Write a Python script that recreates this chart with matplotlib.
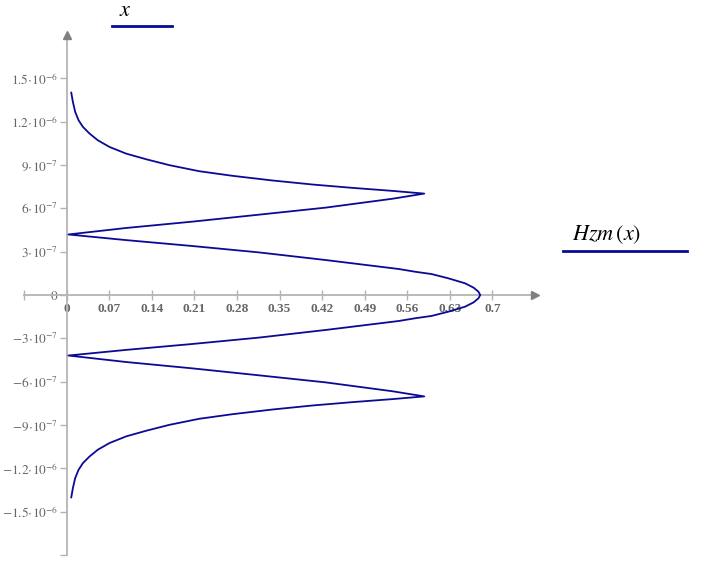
import matplotlib
matplotlib.use("Agg")
import matplotlib.pyplot as plt

plt.rcParams['mathtext.fontset'] = 'stix'
plt.rcParams['font.family'] = ['Liberation Serif', 'DejaVu Serif']

# Heights x (vertical axis, in units of 1e-7 m) and Hzm(x) values (horizontal axis)
x_upper = [14.01, 13.36, 12.67, 12.10, 11.64, 11.18, 10.71, 10.25, 9.79, 9.40, 8.99,
           8.57, 8.25, 7.93, 7.65, 7.42, 7.21, 7.02,
           6.66, 6.05, 5.56, 5.08, 4.64, 4.19,
           3.80, 3.39, 2.95, 2.42, 1.80, 1.61, 1.45, 1.15, 0.81, 0.51, 0.23, 0.0]
hzm_upper = [0.0077, 0.0104, 0.0142, 0.0197, 0.0268, 0.0377, 0.0514, 0.0705, 0.0978, 0.1306, 0.1689,
             0.218, 0.273, 0.338, 0.404, 0.469, 0.535, 0.588,
             0.535, 0.426, 0.316, 0.207, 0.098, 0.003,
             0.098, 0.207, 0.316, 0.426, 0.546, 0.573, 0.600, 0.628, 0.655, 0.669, 0.677, 0.680]
x_lower = [-0.23, -0.51, -0.81, -1.15, -1.45, -1.61, -1.80, -2.42, -2.95, -3.39, -3.80,
           -4.19, -4.64, -5.08, -5.56, -6.05, -6.66,
           -7.02, -7.21, -7.42, -7.65, -7.93, -8.25, -8.57,
           -8.99, -9.40, -9.79, -10.25, -10.71, -11.18, -11.64, -12.10, -12.67, -13.36, -14.01]
hzm_lower = [0.677, 0.669, 0.655, 0.628, 0.600, 0.573, 0.546, 0.426, 0.316, 0.207, 0.098,
             0.003, 0.098, 0.207, 0.316, 0.426, 0.535,
             0.588, 0.535, 0.469, 0.404, 0.338, 0.273, 0.218,
             0.1689, 0.1306, 0.0978, 0.0705, 0.0514, 0.0377, 0.0268, 0.0197, 0.0142, 0.0104, 0.0077]

xticks = [0, 0.07, 0.14, 0.21, 0.28, 0.35, 0.42, 0.49, 0.56, 0.63, 0.7]
xtick_labels = ['0', '0.07', '0.14', '0.21', '0.28', '0.35', '0.42', '0.49', '0.56', '0.63', '0.7']
yticks = [1.5e-6, 1.2e-6, 9e-7, 6e-7, 3e-7, 0, -3e-7, -6e-7, -9e-7, -1.2e-6, -1.5e-6]
ytick_labels = [r'$1.5\!\cdot\!10^{-6}$', r'$1.2\!\cdot\!10^{-6}$', r'$9\!\cdot\!10^{-7}$',
                r'$6\!\cdot\!10^{-7}$', r'$3\!\cdot\!10^{-7}$', r'$0$',
                r'$-3\!\cdot\!10^{-7}$', r'$-6\!\cdot\!10^{-7}$', r'$-9\!\cdot\!10^{-7}$',
                r'$-1.2\!\cdot\!10^{-6}$', r'$-1.5\!\cdot\!10^{-6}$']

W, H = 702, 573
fig = plt.figure(figsize=(W / 100, H / 100), dpi=100)
ax = fig.add_axes([24 / W, 1 - 555 / H, (535 - 24) / W, (555 - 35) / H])
ax.set_xlim(-0.07, 0.77)
ax.set_ylim(-1.8e-6, 1.8e-6)

axcol = '#b4b4b4'
labcol = '#666666'
curve_col = '#0a0a96'

xs = [v * 1e-7 for v in x_upper + x_lower]
hs = hzm_upper + hzm_lower
ax.plot(hs, xs, color=curve_col, lw=1.3, zorder=3, solid_joinstyle='round')

for s in ['top', 'right']:
    ax.spines[s].set_visible(False)
ax.spines['left'].set_position(('data', 0))
ax.spines['bottom'].set_position(('data', 0))
for s in ['left', 'bottom']:
    ax.spines[s].set_color(axcol)
    ax.spines[s].set_linewidth(1.3)

ax.set_xticks(xticks + [-0.07])
ax.set_xticklabels(xtick_labels + [''])
ax.set_yticks(yticks + [-1.8e-6])
ax.set_yticklabels(ytick_labels + [''])
ax.tick_params(axis='x', direction='inout', length=7, width=1, color=axcol,
               labelsize=9.5, labelcolor=labcol, pad=2)
ax.tick_params(axis='y', direction='out', length=5, width=1, color=axcol,
               labelsize=9.5, labelcolor=labcol, pad=1)
for t in ax.get_xticklabels():
    t.set_fontweight('bold')

# axis arrows
ax.plot([0], [1.8e-6], marker='^', color='#808080', markersize=6, clip_on=False, zorder=4)
ax.plot([0.77], [0], marker='>', color='#808080', markersize=6, clip_on=False, zorder=4)

# Mathcad-style axis labels with trace lines
fig.text(125 / W, 1 - 11 / H, r'$x$', fontsize=16, ha='center', va='center', color='black')
fig.add_artist(plt.Line2D([112 / W, 172 / W], [1 - 26 / H, 1 - 26 / H], color=curve_col, lw=2))
fig.text(607 / W, 1 - 235 / H, r'$Hzm\,(x)$', fontsize=16, ha='center', va='center', color='black')
fig.add_artist(plt.Line2D([563 / W, 687 / W], [1 - 251 / H, 1 - 251 / H], color=curve_col, lw=2))

fig.savefig('out.png', dpi=100)
